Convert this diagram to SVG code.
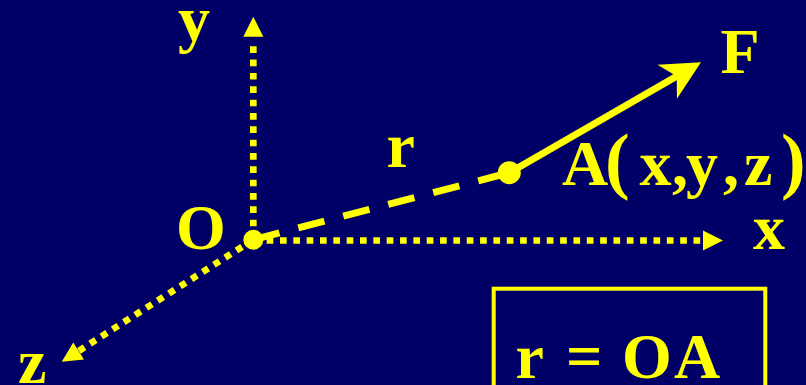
<svg xmlns="http://www.w3.org/2000/svg" xmlns:xlink="http://www.w3.org/1999/xlink" width="806" height="385" viewBox="0 0 806 385">
  <style>
    .bg { fill: #000066; }
    .lbl { font-family: "Liberation Serif", "Times New Roman", serif; font-weight: bold; font-size: 64px; fill: #FFFF00; }
    .dot { fill: none; stroke: #FFFF00; stroke-width: 6.7; stroke-dasharray: 6.67 6.67; }
    .dash { fill: none; stroke: #FFFF00; stroke-width: 7; stroke-dasharray: 27 19.5; }
    .solid { fill: none; stroke: #FFFF00; stroke-width: 7; }
    .head { fill: #FFFF00; }
    .pt { fill: #FFFF00; }
    .box { fill: none; stroke: #FFFF00; stroke-width: 4; }
  </style>
  <defs>
    <path id="tri" class="head" d="M0,-10 L20,0 L0,10 Z"/>
    <path id="notched" class="head" d="M0,0 L-39,-19.5 L-28,0 L-39,19.5 Z"/>
  </defs>
  <rect class="bg" x="0" y="0" width="806" height="385"/>

  <g id="connectors">
    <g id="axis-y">
      <path class="dot" d="M253.3,239.7 L253.3,40"/>
      <use xlink:href="#tri" transform="translate(253.3,36.7) rotate(-90)"/>
    </g>
    <g id="axis-x">
      <path class="dot" d="M253.3,240.5 L702,240.5"/>
      <use xlink:href="#tri" transform="translate(703,240.5)"/>
    </g>
    <g id="axis-z">
      <path class="dot" d="M253.3,239.7 L78.6,351"/>
      <use xlink:href="#tri" transform="translate(78.6,351) rotate(147.5)"/>
    </g>
    <g id="vector-r">
      <path class="dash" d="M253.3,239.7 L509.3,172.7"/>
    </g>
    <g id="vector-F">
      <path class="solid" d="M509.3,172.7 L676.7,76.3"/>
      <use xlink:href="#notched" transform="translate(701,62.3) rotate(-29.94)"/>
    </g>
  </g>

  <g id="node-O">
    <circle class="pt" cx="253.3" cy="239.7" r="10"/>
    <text class="lbl" x="176" y="249">O</text>
  </g>
  <g id="node-A">
    <circle class="pt" cx="509.3" cy="172.7" r="11.5"/>
    <text class="lbl" y="185"><tspan x="562">A</tspan><tspan x="605" font-size="74">(</tspan><tspan x="639.5">x</tspan><tspan x="672">,</tspan><tspan x="686">y</tspan><tspan x="723">,</tspan><tspan x="744">z</tspan><tspan x="781" font-size="74">)</tspan></text>
  </g>
  <g id="label-y"><text class="lbl" x="178" y="40">y</text></g>
  <g id="label-x"><text class="lbl" x="753" y="249">x</text></g>
  <g id="label-z"><text class="lbl" x="18" y="383">z</text></g>
  <g id="label-r"><text class="lbl" x="386.5" y="167.3">r</text></g>
  <g id="label-F"><text class="lbl" x="720.5" y="73.3">F</text></g>

  <g id="node-box">
    <rect class="box" x="493.7" y="288.7" width="271.6" height="120"/>
    <text class="lbl" y="378.3"><tspan x="515.5">r</tspan><tspan x="566">=</tspan><tspan x="622">O</tspan><tspan x="674">A</tspan></text>
  </g>
</svg>
